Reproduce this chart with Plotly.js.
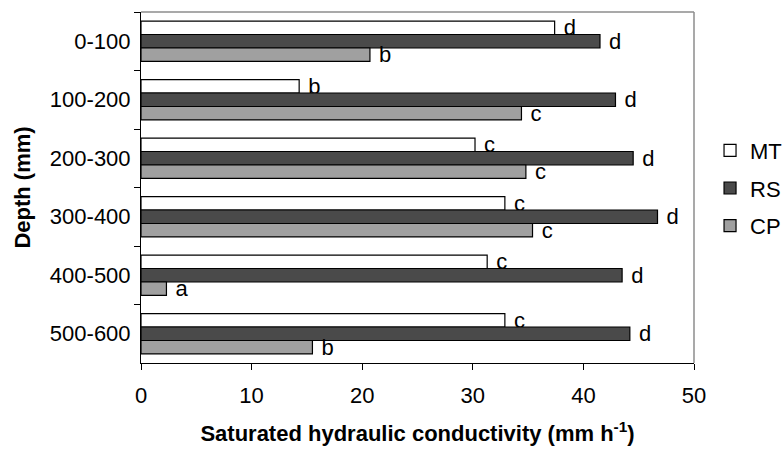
<!DOCTYPE html>
<html>
<head>
<meta charset="utf-8">
<script src="https://cdn.plot.ly/plotly-3.0.1.min.js"></script>
<style>html,body{margin:0;padding:0;background:#fff;}</style>
</head>
<body>
<div id="chart" style="width:784px;height:454px;"></div>
<script>
const categories = ['0-100', '100-200', '200-300', '300-400', '400-500', '500-600'];
const seriesNames = ['MT', 'RS', 'CP'];
const mtValues = [37.4, 14.3, 30.2, 32.9, 31.3, 32.9];
const rsValues = [41.5, 42.9, 44.5, 46.7, 43.5, 44.2];
const cpValues = [20.7, 34.4, 34.8, 35.4, 2.3, 15.5];
const mtLetters = ['d', 'b', 'c', 'c', 'c', 'c'];
const rsLetters = ['d', 'd', 'd', 'd', 'd', 'd'];
const cpLetters = ['b', 'c', 'c', 'c', 'a', 'b'];
const xTickVals = [0, 10, 20, 30, 40, 50];

const FONT = 'Liberation Sans, Arial, Helvetica, sans-serif';
const fills = ['#ffffff', '#4a4a4a', '#a0a0a0'];
const vals = [mtValues, rsValues, cpValues];
const letters = [mtLetters, rsLetters, cpLetters];

const traces = seriesNames.map((name, i) => ({
  type: 'bar',
  orientation: 'h',
  name: name,
  legendgroup: name,
  x: vals[i],
  y: categories,
  text: letters[i].map(t => ' ' + t),
  textposition: 'outside',
  constraintext: 'none',
  cliponaxis: false,
  textfont: {family: FONT, size: 22, color: '#000'},
  marker: {color: fills[i], line: {color: '#000', width: 1.2}},
  hoverinfo: 'skip'
}));

const layout = {
  width: 784,
  height: 454,
  margin: {l: 141, r: 90, t: 12, b: 91, autoexpand: false},
  paper_bgcolor: '#fff',
  plot_bgcolor: '#fff',
  barmode: 'group',
  bargap: 0.31,
  bargroupgap: 0,
  font: {family: FONT, size: 22, color: '#000'},
  showlegend: true,
  legend: {
    x: 1.029, xanchor: 'left',
    y: 0.665, yanchor: 'top',
    traceorder: 'grouped',
    tracegroupgap: 6,
    font: {family: FONT, size: 22, color: '#000'},
    bgcolor: 'rgba(0,0,0,0)'
  },
  xaxis: {
    range: [0, 50],
    tickvals: xTickVals,
    ticks: 'outside', ticklen: 6, tickcolor: '#000', tickwidth: 1,
    showline: true, linecolor: '#000', linewidth: 1,
    showgrid: false, zeroline: false,
    ticklabelstandoff: 7,
    tickfont: {family: FONT, size: 22, color: '#000'},
    title: {
      text: 'Saturated hydraulic conductivity (mm h<sup>-1</sup>)',
      font: {family: FONT, size: 22, color: '#000', weight: 'bold'},
      standoff: 18
    }
  },
  yaxis: {
    type: 'category',
    categoryorder: 'array',
    categoryarray: categories,
    autorange: 'reversed',
    tickson: 'boundaries',
    ticks: 'outside', ticklen: 6, tickcolor: '#000', tickwidth: 1,
    showline: true, linecolor: '#000', linewidth: 1,
    showgrid: false, zeroline: false,
    ticklabelstandoff: 5,
    tickfont: {family: FONT, size: 22, color: '#000'},
    title: {
      text: 'Depth (mm)',
      font: {family: FONT, size: 22, color: '#000', weight: 'bold'},
      standoff: 13
    }
  },
  shapes: [
    {type: 'line', xref: 'paper', yref: 'paper', x0: 0, x1: 1, y0: 1, y1: 1, line: {color: '#8c8c8c', width: 1.5}},
    {type: 'line', xref: 'paper', yref: 'paper', x0: 1, x1: 1, y0: 0, y1: 1, line: {color: '#8c8c8c', width: 1.5}}
  ]
};

Plotly.newPlot('chart', traces, layout, {displayModeBar: false, staticPlot: true});
</script>
</body>
</html>
